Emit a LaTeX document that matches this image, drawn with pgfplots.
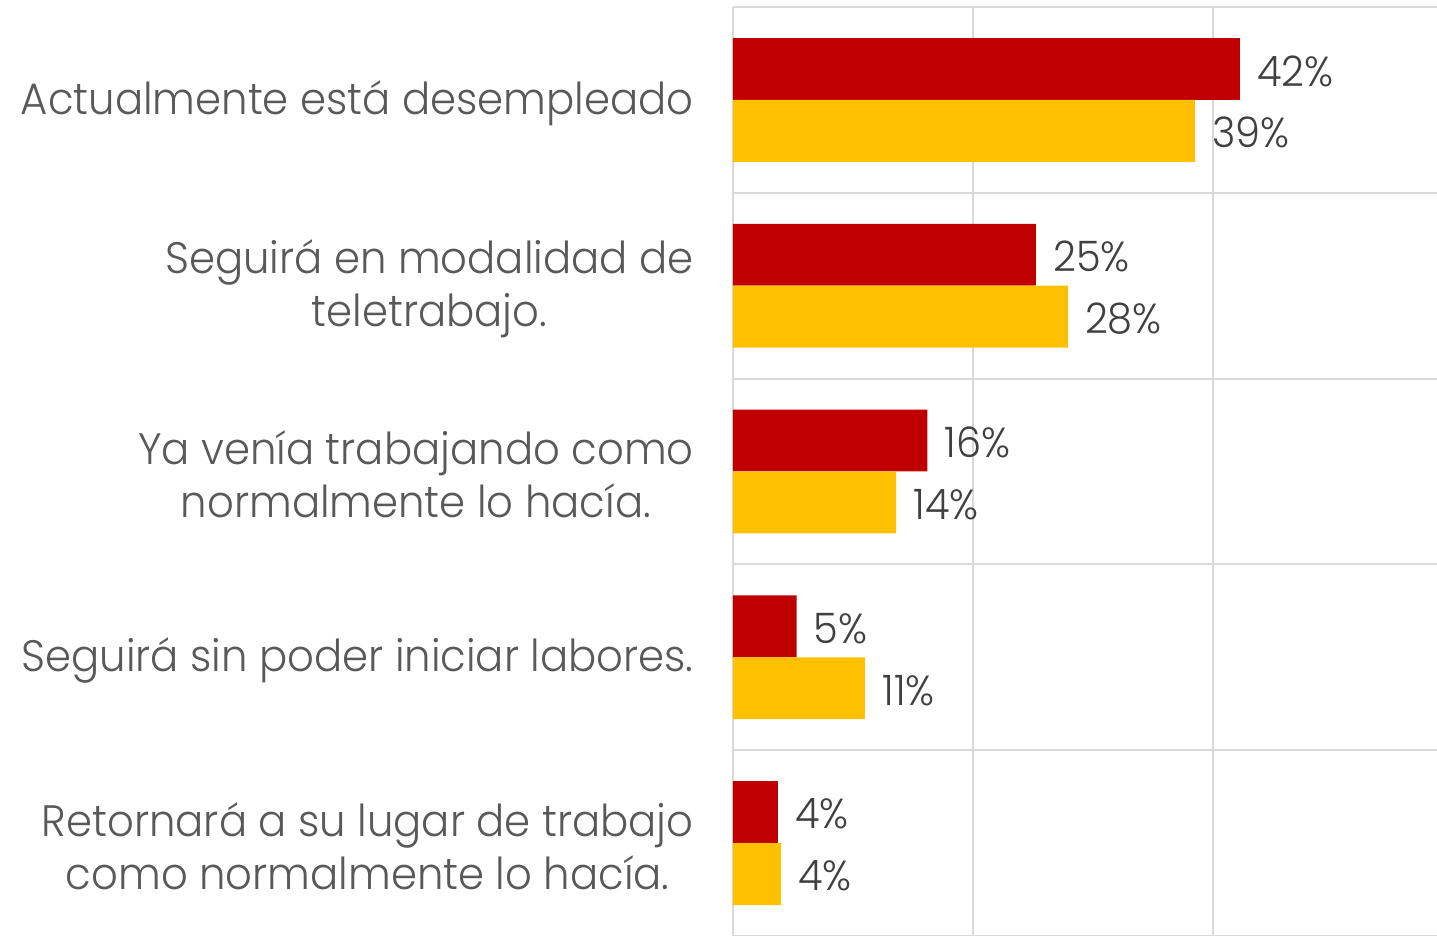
\documentclass[border=0pt]{standalone}
\usepackage{pgfplots}
\pgfplotsset{compat=1.18}
\usepackage{pgfplotstable}
\usepackage{fontspec}
\setmainfont{Poppins}[UprightFont=* Light, FakeStretch=0.95]
\definecolor{cred}{HTML}{C00000}
\definecolor{cyel}{HTML}{FFC000}
\definecolor{cgrid}{HTML}{D9D9D9}
\definecolor{ctext}{HTML}{595959}
\definecolor{clab}{HTML}{404040}
\pgfplotstableread{
i r rl y yl
0 42.25 42 38.5 39
1 25.25 25 27.9 28
2 16.2 16 13.6 14
3 5.3 5 11.0 11
4 3.75 4 4.0 4
}\data
\begin{document}
\begin{tikzpicture}
\useasboundingbox (0,0) rectangle (718.5pt,468pt);
\begin{axis}[
  at={(366.5pt,0pt)}, anchor=south west,
  width=352pt, height=464.5pt, scale only axis,
  xbar, bar width=0.333,
  xmin=0, xmax=58.67,
  ymin=-0.5, ymax=4.5, y dir=reverse,
  axis line style={draw=none},
  xtick={0,20,40}, xticklabels={},
  xmajorgrids=true,
  ytick={0,1,2,3,4},
  minor ytick={-0.5,0.5,1.5,2.5,3.5,4.5},
  yminorgrids=true, ymajorgrids=false,
  grid style={cgrid, line width=1pt},
  minor grid style={cgrid, line width=1pt},
  major tick length=0pt, minor tick length=0pt,
  yticklabels={{Actualmente está desempleado},{Seguirá en modalidad de\\teletrabajo.},{Ya venía trabajando como\\normalmente lo hacía.},{Seguirá sin poder iniciar labores.},{Retornará a su lugar de trabajo\\como normalmente lo hacía.}},
  yticklabel style={align=center, font=\fontsize{22}{26.5}\selectfont, text=ctext, inner sep=0pt, xshift=-19.5pt, yshift=-1.5pt},
  point meta=explicit symbolic,
  nodes near coords={\pgfplotspointmeta\%},
  nodes near coords style={anchor=west, inner sep=0pt, xshift=8.5pt, yshift=-1pt, font=\fontsize{21}{24}\selectfont, text=clab},
  clip=true,
]
\addplot[fill=cred, draw=none, bar shift=-0.1667] table[x=r, y=i, meta=rl] {\data};
\addplot[fill=cyel, draw=none, bar shift=0.1667] table[x=y, y=i, meta=yl] {\data};
\end{axis}
\end{tikzpicture}
\end{document}
